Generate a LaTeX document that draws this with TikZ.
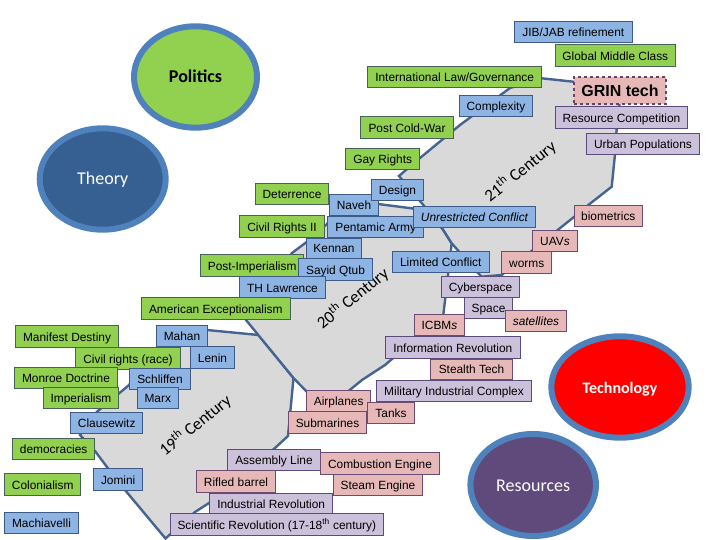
\documentclass[tikz,border=0pt]{standalone}
\usepackage{fontspec}
\usetikzlibrary{shapes.geometric}
\setmainfont{Liberation Sans}
\newfontfamily\calfont{Carlito}
\definecolor{edgeblue}{HTML}{456491}
\definecolor{band}{HTML}{D9D9D9}
\definecolor{ring}{HTML}{4F81BD}
\definecolor{gfill}{HTML}{92D050}
\definecolor{gline}{HTML}{46625A}
\definecolor{bfill}{HTML}{8EB4E3}
\definecolor{bline}{HTML}{3E5A87}
\definecolor{pfill}{HTML}{CCC1DA}
\definecolor{pline}{HTML}{5A4B7D}
\definecolor{rfill}{HTML}{E6B9B8}
\definecolor{rline}{HTML}{6E4B73}
\definecolor{gdash}{HTML}{6E415F}
\definecolor{theoryfill}{HTML}{366092}
\definecolor{resfill}{HTML}{604A7B}
\tikzset{
  basebox/.style={draw,rectangle,line width=0.9pt,inner sep=0pt,text=black,
    font=\fontsize{11.9}{13}\selectfont,text height=9.2pt,text depth=0pt},
  greenbox/.style={basebox,fill=gfill,draw=gline},
  bluebox/.style={basebox,fill=bfill,draw=bline},
  purplebox/.style={basebox,fill=pfill,draw=pline},
  pinkbox/.style={basebox,fill=rfill,draw=rline},
  bandshape/.style={draw=edgeblue,fill=band,line width=2.4pt,line join=miter},
  blob/.style={draw=ring,line width=6pt,ellipse,inner sep=0pt,text height=12pt,text depth=0pt},
  era/.style={font=\calfont\fontsize{17}{20}\selectfont,rotate=39,inner sep=0pt},
}
\newcommand{\bx}[7]{%
  \pgfmathsetmacro\bxx{(#3+#5)/2}\pgfmathsetmacro\bxy{(#4+#6)/2}%
  \pgfmathsetmacro\bxw{#5-#3}\pgfmathsetmacro\bxh{#6-#4}%
  \node[#1,minimum width=\bxw pt,minimum height=\bxh pt] (#2) at (\bxx,\bxy) {#7};}
\begin{document}
\begin{tikzpicture}[x=1pt,y=-1pt]
\useasboundingbox (0,0) rectangle (720,540);
% century bands
\draw[bandshape] (165.5,538.5)--(125,490)--(107,467)--(95,451)--(80,435)--(97,411.7)--(128.3,385.7)--(165,345)--(207,330)--(258.5,335)--(293.5,378)--(288,436)--(275,448)--(209,503)--(195,512)--cycle;
\draw[bandshape] (246,320)--(292,253)--(307,241.7)--(327,224)--(340,205)--(378,204)--(413,208.5)--(442,228)--(451.7,243.3)--(443.3,315)--(385,365)--(362,380)--(340,398)--(307,392)--(293.5,378)--cycle;
\draw[bandshape] (399,176)--(420,158)--(460,125)--(510,88)--(541.7,78.3)--(573.3,81.7)--(620,100)--(616.7,128.3)--(615,154.3)--(611.7,186.7)--(588.3,205)--(574.3,216.7)--(557.7,230)--(501.7,275)--(481.7,276.7)--(476.7,271.7)--(451.7,243.3)--(442,228)--(425,207)--cycle;
% circles
\node[blob,fill=gfill,minimum width=123pt,minimum height=101.4pt,font=\calfont\bfseries\fontsize{18}{20}\selectfont] (politics) at (195.5,77) {Politics};
\node[blob,fill=theoryfill,minimum width=126pt,minimum height=101.4pt,text=white,font=\calfont\fontsize{18}{20}\selectfont] (theory) at (102.7,179) {Theory};
\node[blob,fill=red,minimum width=137.4pt,minimum height=101.4pt,text=white,font=\calfont\bfseries\fontsize{16}{18}\selectfont] (technology) at (620,387) {Technology};
\node[blob,fill=resfill,minimum width=125.6pt,minimum height=102pt,text=white,font=\calfont\fontsize{18}{20}\selectfont] (resources) at (533.2,485) {Resources};
% era labels
\node[era] (e21) at (520,171) {21\textsuperscript{th} Century};
\node[era] (e20) at (352.5,298) {20\textsuperscript{th} Century};
\node[era] (e19) at (195,425) {19\textsuperscript{th} Century};
% boxes
\bx{bluebox}{jib}{514.3}{21.7}{632.3}{42.3}{JIB/JAB refinement}
\bx{greenbox}{gmc}{555.3}{44.7}{675.3}{66.3}{Global Middle Class}
\bx{greenbox}{law}{367.7}{66.3}{541.7}{87.3}{International Law/Governance}
\bx{bluebox}{complexity}{459.7}{95.7}{532.3}{116.3}{Complexity}
\node[basebox,fill=rfill,draw=gdash,line width=1.5pt,dashed,minimum width=92pt,minimum height=27.3pt,font=\bfseries\fontsize{16}{18}\selectfont,text height=12pt,text depth=0pt] (grin) at (620,90.6) {GRIN tech};
\bx{purplebox}{rescomp}{555.7}{106.7}{687.3}{128.3}{Resource Competition}
\bx{greenbox}{postcold}{360.7}{116.7}{453.3}{138.3}{Post Cold-War}
\bx{purplebox}{urban}{586.7}{133.7}{699.3}{154.3}{Urban Populations}
\bx{greenbox}{gay}{345.7}{148.7}{419.7}{169.3}{Gay Rights}
\bx{greenbox}{deterrence}{255.7}{183.7}{328.3}{204.3}{Deterrence}
\bx{bluebox}{naveh}{329.7}{194.7}{378.3}{215.3}{Naveh}
\bx{bluebox}{design}{371.7}{179.7}{423.3}{200.3}{Design}
\bx{greenbox}{civil2}{239.7}{215.7}{324.3}{237.3}{Civil Rights II}
\bx{bluebox}{pentamic}{327.7}{216.7}{423.7}{237.3}{Pentamic Army}
\bx{bluebox}{unres}{413.7}{206.7}{535.3}{227.3}{\itshape Unrestricted Conflict}
\bx{pinkbox}{bio}{574.3}{205.3}{642.3}{226.3}{biometrics}
\bx{pinkbox}{uavs}{532.7}{230.7}{577.3}{251.7}{UAV\textit{s}}
\bx{pinkbox}{worms}{501.7}{251.7}{551.7}{273.3}{worms}
\bx{bluebox}{limited}{392.3}{251.7}{489.3}{272.3}{Limited Conflict}
\bx{bluebox}{kennan}{306.7}{238}{361.3}{258.3}{Kennan}
\bx{greenbox}{postimp}{200.7}{254.7}{303.7}{276.3}{Post-Imperialism}
\bx{bluebox}{sayid}{298.7}{258.7}{372.3}{280.3}{Sayid Qtub}
\bx{bluebox}{thl}{239.7}{276.7}{325.3}{298.3}{TH Lawrence}
\bx{greenbox}{amex}{141.3}{297.7}{290.3}{319.3}{American Exceptionalism}
\bx{purplebox}{cyber}{441.7}{276.7}{519.3}{297.3}{Cyberspace}
\bx{purplebox}{space}{464.7}{297}{512.3}{318.3}{Space}
\bx{pinkbox}{sat}{505.7}{310.7}{566.3}{331.3}{\itshape satellites}
\bx{pinkbox}{icbm}{414.7}{314.7}{464.3}{335.3}{ICBM\textit{s}}
\bx{purplebox}{inforev}{385.3}{336.7}{520.3}{358.3}{Information Revolution}
\bx{pinkbox}{stealth}{430.7}{359}{512.3}{379.7}{Stealth Tech}
\bx{purplebox}{mic}{376.7}{380.7}{531.3}{401.3}{Military Industrial Complex}
\bx{pinkbox}{air}{306.7}{390.3}{370.7}{411}{Airplanes}
\bx{pinkbox}{tanks}{367.7}{402.7}{414.3}{423.3}{Tanks}
\bx{pinkbox}{subs}{288.7}{411.7}{366.3}{433.3}{Submarines}
\bx{purplebox}{assembly}{227.7}{449.3}{320.3}{470}{Assembly Line}
\bx{pinkbox}{combustion}{320.7}{452.7}{439.3}{474.3}{Combustion Engine}
\bx{pinkbox}{rifled}{196.7}{470.7}{275.3}{492.3}{Rifled barrel}
\bx{pinkbox}{steam}{333.7}{474.7}{422.3}{495.3}{Steam Engine}
\bx{purplebox}{indrev}{209.7}{493.7}{332.7}{514.3}{Industrial Revolution}
\bx{purplebox}{scirev}{170.3}{513.7}{383.3}{535.3}{Scientific Revolution (17-18\textsuperscript{th} century)}
\bx{greenbox}{manifest}{15.7}{325.7}{118.3}{347.3}{Manifest Destiny}
\bx{bluebox}{mahan}{156.7}{325.7}{207.3}{346.3}{Mahan}
\bx{greenbox}{civilrace}{75.7}{347.7}{180.3}{369.3}{Civil rights (race)}
\bx{bluebox}{lenin}{190.7}{346.7}{234.3}{368.3}{Lenin}
\bx{greenbox}{monroe}{14.7}{367.3}{117.3}{388.3}{Monroe Doctrine}
\bx{bluebox}{schliffen}{129.7}{368.7}{190.3}{389.3}{Schliffen}
\bx{greenbox}{imperialism}{43.7}{387.7}{118.3}{408.3}{Imperialism}
\bx{bluebox}{marx}{137.3}{387.7}{178.3}{408.3}{Marx}
\bx{bluebox}{clausewitz}{70.7}{412.7}{142.7}{433.3}{Clausewitz}
\bx{greenbox}{democracies}{12.7}{438.3}{94.7}{459}{democracies}
\bx{bluebox}{jomini}{93.7}{468.7}{142.7}{490.3}{Jomini}
\bx{greenbox}{colonialism}{4.7}{473.7}{80.7}{495.3}{Colonialism}
\bx{bluebox}{machiavelli}{4.7}{512.7}{78.3}{533.3}{Machiavelli}
\end{tikzpicture}
\end{document}
